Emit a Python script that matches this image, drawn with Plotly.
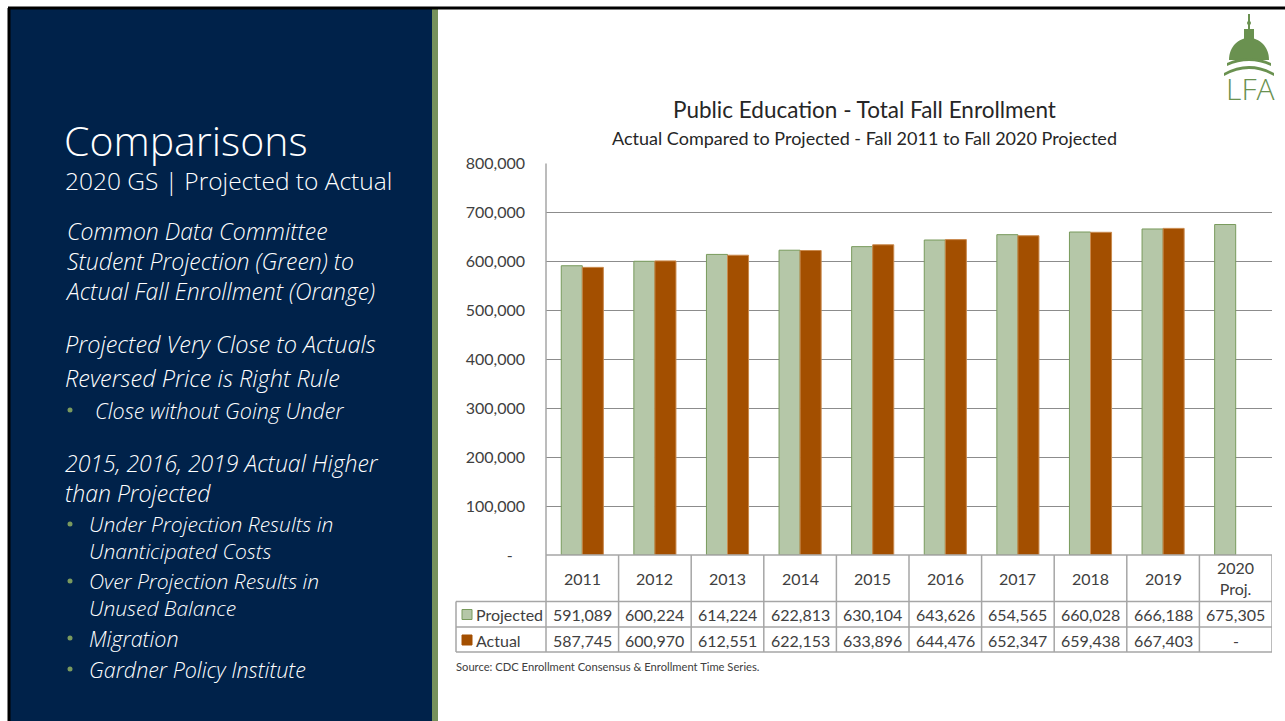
import plotly.graph_objects as go

# ---- data ----
categories = ["2011", "2012", "2013", "2014", "2015", "2016", "2017", "2018", "2019", "2020 Proj."]
projected = [591089, 600224, 614224, 622813, 630104, 643626, 654565, 660028, 666188, 675305]
actual = [587745, 600970, 612551, 622153, 633896, 644476, 652347, 659438, 667403, None]
series_names = ["Projected", "Actual"]
y_ticks = [0, 100000, 200000, 300000, 400000, 500000, 600000, 700000, 800000]

W, H = 1285, 721
NAVY = "#00224A"
GREEN_BAR = "#B5C7A8"
GREEN_EDGE = "#789A5C"
ORANGE = "#A34F00"
TXT = "#404040"
FONT = "Lato"


def px(x):
    return x / W


def py(y):
    return 1 - y / H


# plot area in pixels
PL, PR, PT, PB = 546, 1272, 163.5, 555

fig = go.Figure()
fig.add_trace(go.Bar(x=categories, y=projected, name=series_names[0],
                     marker=dict(color=GREEN_BAR, line=dict(color=GREEN_EDGE, width=1))))
fig.add_trace(go.Bar(x=categories, y=actual, name=series_names[1],
                     marker=dict(color=ORANGE, line=dict(color="#C98A4E", width=1))))

tick_text = [f"{v:,}" if v else "-\u00a0\u00a0\u00a0" for v in y_ticks]

fig.update_layout(
    width=W, height=H, autosize=False,
    margin=dict(l=0, r=0, t=0, b=0, pad=0, autoexpand=False),
    paper_bgcolor="white", plot_bgcolor="white",
    showlegend=False,
    barmode="group", bargap=0.42, bargroupgap=0,
    font=dict(family=FONT, color=TXT),
    xaxis=dict(type="category", domain=[px(PL), px(PR)], showticklabels=False,
               showgrid=False, zeroline=False, showline=False, automargin=False,
               range=[-0.5, len(categories) - 0.5], fixedrange=True),
    yaxis=dict(domain=[py(PB), py(PT)], range=[0, 800000], tickvals=y_ticks,
               ticktext=tick_text, showgrid=True, gridcolor="#8C8C8C", gridwidth=1,
               zeroline=False, showline=False, ticks="", ticklabelstandoff=20,
               automargin=False,
               tickfont=dict(size=16, color=TXT, family=FONT), fixedrange=True),
)

shapes = []
annotations = []

# ---- slide frame, left panel and accent bar ----
shapes.append(dict(type="rect", xref="paper", yref="paper", x0=px(10), x1=px(432),
                   y0=py(721), y1=py(9), fillcolor=NAVY, line=dict(width=0), layer="below"))
shapes.append(dict(type="rect", xref="paper", yref="paper", x0=px(432), x1=px(438),
                   y0=py(721), y1=py(9), fillcolor="#76915B", line=dict(width=0), layer="below"))
shapes.append(dict(type="line", xref="paper", yref="paper", x0=px(8), x1=px(1285),
                   y0=py(8), y1=py(8), line=dict(color="black", width=3)))
shapes.append(dict(type="line", xref="paper", yref="paper", x0=px(9), x1=px(9),
                   y0=py(8), y1=py(721), line=dict(color="black", width=3)))


# ---- left panel text ----
def panel_text(text, x, y, size, italic=True):
    annotations.append(dict(xref="paper", yref="paper", x=px(x), y=py(y), text=text,
                            showarrow=False, xanchor="left", yanchor="middle", align="left",
                            font=dict(family="Open Sans", size=size, color="white",
                                      style="italic" if italic else "normal",
                                      weight=300)))


def bullet(x, y):
    shapes.append(dict(type="circle", xref="paper", yref="paper",
                       x0=px(x - 2.5), x1=px(x + 2.5), y0=py(y - 2.5), y1=py(y + 2.5),
                       fillcolor="#7A9A5E", line=dict(width=0)))


panel_text("Comparisons", 62, 140, 41, italic=False)
panel_text("2020 GS | Projected to Actual", 63, 180, 24.5, italic=False)
panel_text("Common Data Committee<br>Student Projection (Green) to<br>"
           "Actual Fall Enrollment (Orange)", 63, 261, 23)
panel_text("Projected Very Close to Actuals", 63, 344, 23.5)
panel_text("Reversed Price is Right Rule", 63, 378, 23.5)
bullet(70, 410)
panel_text("Close without Going Under", 93, 410, 21.5)
panel_text("2015, 2016, 2019 Actual Higher<br>than Projected", 63, 477.5, 23)
bullet(70, 524)
panel_text("Under Projection Results in<br>Unanticipated Costs", 87, 537, 21)
bullet(70, 581)
panel_text("Over Projection Results in<br>Unused Balance", 87, 594, 21)
bullet(70, 638)
panel_text("Migration", 87, 638, 21.5)
bullet(70, 669)
panel_text("Gardner Policy Institute", 87, 669, 21.5)

# ---- chart titles ----
annotations.append(dict(xref="paper", yref="paper", x=px(864), y=py(110),
                        text="Public Education - Total Fall Enrollment", showarrow=False,
                        xanchor="center", yanchor="middle",
                        font=dict(size=22.5, color="#262626", family=FONT)))
annotations.append(dict(xref="paper", yref="paper", x=px(864), y=py(138),
                        text="Actual Compared to Projected - Fall 2011 to Fall 2020 Projected",
                        showarrow=False, xanchor="center", yanchor="middle",
                        font=dict(size=18, color="#262626", family=FONT)))

# ---- data table below the plot ----
ROW_H = (PB, 601.5, 627, 652)
BORDER = dict(color="#A6A6A6", width=1.5)
n = len(categories)

# plot left edge continues into the table
shapes.append(dict(type="line", xref="paper", yref="paper", x0=px(PL), x1=px(PL),
                   y0=py(PT), y1=py(ROW_H[3]), line=BORDER))
# horizontal table rules
shapes.append(dict(type="line", xref="paper", yref="paper", x0=px(PL), x1=px(PR),
                   y0=py(ROW_H[0]), y1=py(ROW_H[0]), line=BORDER))
for yy in ROW_H[1:]:
    shapes.append(dict(type="line", xref="paper", yref="paper", x0=px(456), x1=px(PR),
                       y0=py(yy), y1=py(yy), line=BORDER))
# legend column left edge
shapes.append(dict(type="line", xref="paper", yref="paper", x0=px(456), x1=px(456),
                   y0=py(ROW_H[1]), y1=py(ROW_H[3]), line=BORDER))
# column separators
for i in range(n):
    shapes.append(dict(type="line", xref="x", yref="paper", x0=i + 0.5, x1=i + 0.5,
                       y0=py(ROW_H[0]), y1=py(ROW_H[3]), line=BORDER))

for i, cat in enumerate(categories):
    annotations.append(dict(xref="x", yref="paper", x=i, y=py(578),
                            text=cat.replace(" ", "<br>"), showarrow=False,
                            xanchor="center", yanchor="middle",
                            font=dict(size=16, color=TXT, family=FONT)))
    for vals, yy in ((projected, 614.5), (actual, 640)):
        v = vals[i]
        annotations.append(dict(xref="x", yref="paper", x=i, y=py(yy),
                                text=f"{v:,}" if v is not None else "-",
                                showarrow=False, xanchor="center", yanchor="middle",
                                font=dict(size=16, color=TXT, family=FONT)))

# legend keys inside the table
for name, yy, fill, edge in ((series_names[0], 614.5, GREEN_BAR, GREEN_EDGE),
                             (series_names[1], 640, ORANGE, ORANGE)):
    shapes.append(dict(type="rect", xref="paper", yref="paper", x0=px(462), x1=px(472),
                       y0=py(yy + 5), y1=py(yy - 5), fillcolor=fill,
                       line=dict(color=edge, width=1)))
    annotations.append(dict(xref="paper", yref="paper", x=px(474), y=py(yy), text=name,
                            showarrow=False, xanchor="left", yanchor="middle",
                            font=dict(size=16, color=TXT, family=FONT)))

annotations.append(dict(xref="paper", yref="paper", x=px(454), y=py(666),
                        text="Source: CDC Enrollment Consensus & Enrollment Time Series.",
                        showarrow=False, xanchor="left", yanchor="middle",
                        font=dict(size=11.2, color=TXT, family=FONT)))

# ---- capitol dome emblem ----
LOGO = "#6A9150"


def P(x, y):
    return f"{px(x):.5f},{py(y):.5f}"


shapes.append(dict(type="line", xref="paper", yref="paper", x0=px(1249), x1=px(1249),
                   y0=py(14), y1=py(30), line=dict(color=LOGO, width=2)))
shapes.append(dict(type="circle", xref="paper", yref="paper", x0=px(1247), x1=px(1251),
                   y0=py(25), y1=py(21), fillcolor=LOGO, line=dict(width=0)))
shapes.append(dict(type="rect", xref="paper", yref="paper", x0=px(1244), x1=px(1254),
                   y0=py(40), y1=py(29), fillcolor=LOGO, line=dict(width=0)))
shapes.append(dict(type="path", xref="paper", yref="paper",
                   path=f"M {P(1229, 60)} C {P(1229, 46)} {P(1239, 38)} {P(1249, 38)} "
                        f"C {P(1259, 38)} {P(1269, 46)} {P(1269, 60)} Z",
                   fillcolor=LOGO, line=dict(width=0)))
shapes.append(dict(type="path", xref="paper", yref="paper",
                   path=f"M {P(1227, 66)} Q {P(1249, 56)} {P(1271, 66)} L {P(1271, 63)} "
                        f"Q {P(1249, 53)} {P(1227, 63)} Z",
                   fillcolor=LOGO, line=dict(width=0)))
shapes.append(dict(type="path", xref="paper", yref="paper",
                   path=f"M {P(1224, 76)} Q {P(1249, 62)} {P(1274, 76)} L {P(1274, 73)} "
                        f"Q {P(1249, 59)} {P(1224, 73)} Z",
                   fillcolor=LOGO, line=dict(width=0)))
annotations.append(dict(xref="paper", yref="paper", x=px(1250), y=py(89), text="LFA",
                        showarrow=False, xanchor="center", yanchor="middle",
                        font=dict(size=30, color=LOGO, family="Open Sans", weight=300)))

fig.update_layout(shapes=shapes, annotations=annotations)
fig.write_html("out.html")
